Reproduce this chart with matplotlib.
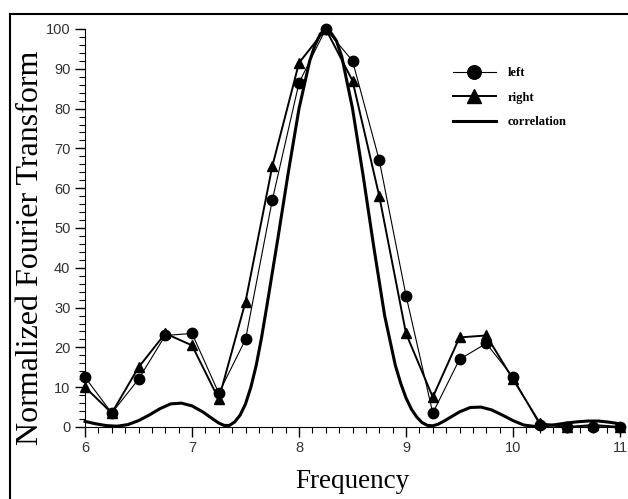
import matplotlib.pyplot as plt
from matplotlib.lines import Line2D
from matplotlib.ticker import MultipleLocator

# sample points (0.25 step)
freq = [6.0, 6.25, 6.5, 6.75, 7.0, 7.25, 7.5, 7.75, 8.0, 8.25, 8.5,
        8.75, 9.0, 9.25, 9.5, 9.75, 10.0, 10.25, 10.5, 10.75, 11.0]
left = [12.5, 3.5, 12, 23, 23.5, 8.5, 22, 57, 86.5, 100, 92,
        67, 33, 3.5, 17, 21, 12.5, 0.5, 0, 0, 0]
right = [10, 3.5, 15, 23.5, 20.5, 7, 31.5, 65.5, 91.5, 100, 87,
         58, 23.5, 7.5, 22.5, 23, 12, 1, 0, 0.5, 0]

# correlation curve
corr_x = [6.0, 6.1, 6.2, 6.3, 6.4, 6.5, 6.6, 6.7, 6.8, 6.9, 7.0, 7.1, 7.2,
          7.25, 7.3, 7.35, 7.4, 7.45, 7.5, 7.55, 7.6, 7.65, 7.7, 7.8, 7.9,
          8.0, 8.1, 8.15, 8.2, 8.25, 8.3, 8.35, 8.4, 8.5, 8.6, 8.7, 8.8,
          8.9, 8.95, 9.0, 9.05, 9.1, 9.15, 9.2, 9.25, 9.3, 9.35, 9.4, 9.5,
          9.6, 9.7, 9.8, 9.9, 10.0, 10.1, 10.2, 10.3, 10.4, 10.5, 10.6,
          10.7, 10.8, 10.9, 11.0]
corr_y = [1.4, 0.8, 0.35, 0.2, 0.6, 1.6, 3.0, 4.6, 5.8, 6.0, 5.3, 3.8, 1.9,
          1.0, 0.4, 0.4, 1.3, 3.0, 5.8, 10, 15.5, 22.5, 30.5, 47, 64,
          80, 92, 96, 98.8, 100, 99, 97, 93, 80, 63, 45, 28,
          15.5, 11, 7.3, 4.5, 2.5, 1.1, 0.4, 0.3, 0.7, 1.4, 2.2, 3.8,
          4.9, 5.0, 4.3, 3.0, 1.6, 0.5, 0.15, 0.3, 0.6, 1.0, 1.3,
          1.5, 1.5, 1.2, 0.8]

fig = plt.figure(figsize=(6.28, 4.99), dpi=100)
ax = fig.add_axes([0.1354, 0.1443, 0.8519, 0.7976])

ax.plot(freq, left, color='black', lw=0.8, marker='o', ms=7.5,
        clip_on=False, label='left')
ax.plot(freq, right, color='black', lw=1.4, marker='^', ms=7.5,
        clip_on=False, label='right')
ax.plot(corr_x, corr_y, color='black', lw=2.2, clip_on=False,
        label='correlation')

ax.set_xlim(6, 11)
ax.set_ylim(0, 100)
ax.xaxis.set_major_locator(MultipleLocator(1))
ax.xaxis.set_minor_locator(MultipleLocator(0.125))
ax.yaxis.set_major_locator(MultipleLocator(10))
ax.yaxis.set_minor_locator(MultipleLocator(2))
ax.tick_params(which='major', direction='out', length=7, width=1,
               labelsize=10.5, labelcolor='#333333')
ax.tick_params(which='minor', direction='out', length=4, width=0.8)
ax.tick_params(axis='x', pad=3)
for lab in ax.get_xticklabels() + ax.get_yticklabels():
    lab.set_family('Liberation Sans')

for s in ['top', 'right']:
    ax.spines[s].set_visible(False)

ax.set_xlabel('Frequency', family='Liberation Serif', fontsize=19.5, labelpad=10)
ax.set_ylabel('Normalized Fourier Transform', family='Liberation Serif',
              fontsize=23)
ax.yaxis.set_label_coords(-0.075, 0.45)

leg = ax.legend(loc='upper left', bbox_to_anchor=(0.667, 0.9325), frameon=False,
                handlelength=3.4, handletextpad=1.0, markerscale=1.3,
                labelspacing=1.0,
                prop={'family': 'Liberation Serif', 'weight': 'bold', 'size': 9})

# scanned page frame
fig.add_artist(Line2D([10 / 628, 1.0], [1 - 14 / 499, 1 - 14 / 499],
                      transform=fig.transFigure, color='black', lw=1.5))
fig.add_artist(Line2D([10 / 628, 10 / 628], [0, 1 - 14 / 499],
                      transform=fig.transFigure, color='black', lw=1.5))

fig.savefig('out.png', dpi=100)
